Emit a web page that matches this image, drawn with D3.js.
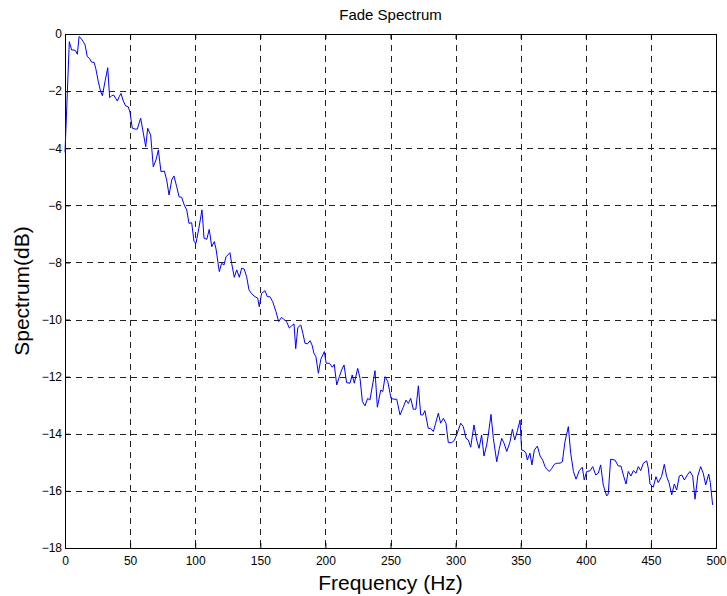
<!DOCTYPE html>
<html>
<head>
<meta charset="utf-8">
<script src="https://cdn.jsdelivr.net/npm/d3@7"></script>
<style>
  html, body { margin: 0; padding: 0; background: #fff; }
  svg { display: block; font-family: "Liberation Sans", Arial, sans-serif; }
</style>
</head>
<body>
<svg id="chart" width="727" height="596"></svg>
<script>
// Fade spectrum: frequency (Hz) and spectrum level (dB)
const freq = [
  0, 3.3, 5.1, 6.9, 8.4, 9.5, 10.8, 12.3, 14.0, 15.4, 17.1, 18.7, 20.5, 22.3, 23.6, 25.6, 27.4, 28.7,
  30.7, 32.8, 34.3, 35.8, 37.4, 38.9, 40.2, 41.7, 43.0, 44.8, 46.6, 48.6, 49.9, 51.7, 53.8, 55.5,
  58.1, 59.6, 62.0, 63.5, 65.8, 67.8, 69.9, 71.7, 73.7, 76.3, 78.1, 79.9, 82.0, 83.7, 85.8, 87.6,
  89.6, 91.6, 93.5, 95.2, 97.3, 99.1, 100.6, 102.8, 105.2, 106.8, 108.9, 110.8, 112.7, 114.7, 116.0,
  118.5, 120.3, 122.1, 123.7, 126.7, 128.0, 130.0, 131.9, 133.9, 135.7, 137.6, 139.5, 141.3, 143.4,
  145.9, 148.0, 149.2, 151.0, 153.6, 155.4, 157.4, 159.5, 162.0, 164.1, 166.4, 168.1, 170.2, 172.3,
  174.1, 175.9, 177.2, 178.8, 181.1, 182.7, 184.3, 186.3, 188.2, 189.8, 191.2, 192.7, 194.6, 196.5,
  199.2, 200.6, 203.1, 205.3, 206.8, 208.7, 210.7, 212.5, 214.3, 216.3, 218.9, 220.6, 222.2, 224.8,
  226.6, 228.4, 230.4, 232.5, 234.2, 238.1, 239.9, 242.5, 244.1, 245.8, 247.9, 250.4, 252.7, 254.8,
  257.3, 259.8, 261.9, 263.7, 265.5, 267.5, 269.5, 271.4, 273.2, 274.9, 276.4, 279.0, 280.8, 282.9,
  284.7, 286.7, 288.5, 290.6, 292.6, 294.4, 296.9, 298.9, 300.8, 303.9, 305.9, 308.0, 309.8, 311.6,
  314.1, 316.2, 318.0, 320.0, 321.8, 323.9, 325.1, 327.2, 329.0, 331.6, 333.6, 335.4, 337.2, 339.3,
  341.8, 343.6, 345.4, 347.4, 349.5, 350.7, 352.5, 354.0, 355.1, 357.1, 358.6, 360.5, 362.8, 364.9,
  366.9, 368.7, 370.0, 372.0, 373.9, 375.8, 377.7, 380.2, 382.0, 384.0, 386.6, 388.4, 390.5, 392.5,
  395.0, 397.3, 398.8, 400.7, 403.2, 405.3, 407.6, 409.6, 411.4, 413.4, 416.0, 417.2, 419.1, 422.4,
  425.0, 427.0, 428.8, 430.9, 432.6, 434.7, 436.5, 438.6, 440.3, 442.2, 444.2, 446.8, 448.0, 449.3,
  451.8, 453.9, 455.6, 458.2, 460.3, 462.1, 463.9, 466.0, 468.0, 469.8, 471.8, 473.7, 475.7, 478.0,
  480.0, 482.1, 483.9, 486.0, 488.2, 490.2, 492.1, 494.4, 495.6, 497.4
];
const spectrumDb = [
  -4.15, -0.27, -0.56, -0.56, -0.60, -0.71, -0.09, -0.15, -0.27, -0.38, -0.79, -0.85, -0.99, -0.99, -1.20, -1.67, -2.02, -2.16,
  -1.67, -1.18, -2.23, -2.16, -2.14, -2.25, -2.35, -2.19, -2.08, -2.35, -2.52, -2.55, -2.74, -3.30, -3.33, -3.33,
  -2.95, -3.33, -3.95, -3.30, -3.54, -4.65, -4.41, -4.06, -4.82, -4.80, -5.11, -5.64, -5.11, -4.97, -5.35, -5.70,
  -5.72, -5.99, -6.16, -6.63, -6.61, -7.27, -7.33, -6.80, -6.16, -7.15, -7.19, -6.84, -7.45, -7.27, -7.53,
  -8.32, -8.03, -8.09, -7.80, -7.66, -8.03, -8.52, -8.26, -8.52, -8.20, -8.23, -8.50, -8.96, -9.10,
  -9.20, -9.25, -9.55, -9.08, -8.99, -9.20, -9.20, -9.37, -9.72, -10.07, -9.92, -10.00, -10.07, -10.30,
  -10.22, -10.15, -11.02, -10.28, -10.19, -10.48, -10.83, -10.85, -10.74, -10.90, -11.18, -11.30, -11.88, -11.39,
  -11.12, -11.53, -11.53, -11.67, -11.57, -12.29, -12.00, -11.76, -11.59, -12.21, -12.23, -11.94, -12.23, -11.71,
  -12.06, -12.87, -13.02, -12.76, -12.82, -11.79, -13.07, -12.47, -12.52, -12.00, -12.17, -12.76, -12.79, -12.79,
  -13.34, -13.07, -12.82, -12.94, -12.76, -13.14, -13.14, -12.32, -13.34, -13.34, -13.19, -13.81, -13.81, -13.92,
  -13.63, -13.28, -13.63, -13.46, -13.63, -14.31, -14.31, -14.24, -14.04, -13.63, -13.75, -14.16, -14.22, -14.47,
  -13.69, -14.22, -14.51, -14.04, -14.78, -14.39, -14.04, -13.32, -14.16, -14.98, -14.51, -14.16, -14.33, -14.62,
  -14.28, -13.84, -14.22, -13.90, -13.52, -14.57, -14.59, -14.68, -14.92, -14.68, -15.09, -14.57, -14.43, -14.78,
  -14.92, -15.15, -15.24, -15.32, -15.21, -15.07, -15.03, -15.03, -14.98, -14.28, -13.75, -14.68, -15.32, -15.59,
  -15.29, -15.17, -15.62, -15.32, -15.30, -15.15, -15.44, -15.38, -15.09, -15.79, -16.18, -16.11, -14.89, -14.92,
  -15.13, -15.13, -15.44, -15.76, -15.32, -15.48, -15.29, -15.38, -15.15, -15.29, -15.03, -14.95, -15.20, -15.76,
  -15.87, -15.50, -15.71, -15.50, -15.07, -15.50, -15.71, -16.14, -15.76, -15.97, -15.48, -15.44, -15.62, -15.44,
  -15.32, -15.48, -16.29, -15.48, -15.15, -15.38, -15.79, -15.41, -15.70, -16.49
];
const xTicks = [0, 50, 100, 150, 200, 250, 300, 350, 400, 450, 500];
const yTicks = [0, -2, -4, -6, -8, -10, -12, -14, -16, -18];

const titleText = "Fade Spectrum";
const xLabel = "Frequency (Hz)";
const yLabel = "Spectrum(dB)";

const svg = d3.select("#chart");
const margin = { left: 65, top: 34, right: 11, bottom: 48 };
const W = 727, H = 596;
const plotW = W - margin.left - margin.right;
const plotH = H - margin.top - margin.bottom;

const x = d3.scaleLinear().domain([0, 500]).range([0, plotW]);
const y = d3.scaleLinear().domain([-18, 0]).range([plotH, 0]);

const g = svg.append("g").attr("transform", `translate(${margin.left},${margin.top})`);

// dashed grid
g.append("g").selectAll("line").data(xTicks.slice(1, -1)).join("line")
  .attr("x1", d => Math.round(x(d)) + 0.5).attr("x2", d => Math.round(x(d)) + 0.5)
  .attr("y1", 0).attr("y2", plotH)
  .attr("stroke", "#222").attr("stroke-width", 1).attr("stroke-dasharray", "6,5");
g.append("g").selectAll("line").data(yTicks.slice(1, -1)).join("line")
  .attr("y1", d => Math.round(y(d)) + 0.5).attr("y2", d => Math.round(y(d)) + 0.5)
  .attr("x1", 0).attr("x2", plotW)
  .attr("stroke", "#222").attr("stroke-width", 1).attr("stroke-dasharray", "6,5");

// axes with inward ticks on all four sides
const tickLen = 5;
const axB = g.append("g").attr("transform", `translate(0,${plotH})`)
  .call(d3.axisBottom(x).tickValues(xTicks).tickSizeInner(-tickLen).tickSizeOuter(0).tickPadding(8).tickFormat(d3.format("d")));
const axT = g.append("g")
  .call(d3.axisTop(x).tickValues(xTicks).tickSizeInner(-tickLen).tickSizeOuter(0).tickFormat(""));
const axL = g.append("g")
  .call(d3.axisLeft(y).tickValues(yTicks).tickSizeInner(-tickLen).tickSizeOuter(0).tickPadding(3).tickFormat(d3.format("d")));
const axR = g.append("g").attr("transform", `translate(${plotW},0)`)
  .call(d3.axisRight(y).tickValues(yTicks).tickSizeInner(-tickLen).tickSizeOuter(0).tickFormat(""));

[axB, axT, axL, axR].forEach(a => {
  a.select(".domain").remove();
  a.selectAll("line").attr("stroke", "#000");
  a.selectAll("text").attr("fill", "#000").style("font-size", "12px")
    .style("font-family", "'Liberation Sans', Arial, sans-serif");
});

// frame
g.append("rect").attr("x", 0.5).attr("y", 0.5).attr("width", plotW).attr("height", plotH)
  .attr("fill", "none").attr("stroke", "#000").attr("stroke-width", 1);

// spectrum trace
const pts = freq.map((f, i) => [f, spectrumDb[i]]);
g.append("path").datum(pts)
  .attr("fill", "none").attr("stroke", "#0000ff").attr("stroke-width", 1)
  .attr("stroke-linejoin", "round")
  .attr("d", d3.line().x(d => x(d[0])).y(d => y(d[1])));

// title and axis labels
svg.append("text").attr("x", margin.left + plotW / 2).attr("y", 20)
  .attr("text-anchor", "middle").style("font-size", "15px").text(titleText);
svg.append("text").attr("x", margin.left + plotW / 2).attr("y", 590)
  .attr("text-anchor", "middle").style("font-size", "21px").text(xLabel);
svg.append("text").attr("transform", `translate(29,${margin.top + plotH / 2}) rotate(-90)`)
  .attr("text-anchor", "middle").style("font-size", "21px").text(yLabel);
</script>
</body>
</html>
